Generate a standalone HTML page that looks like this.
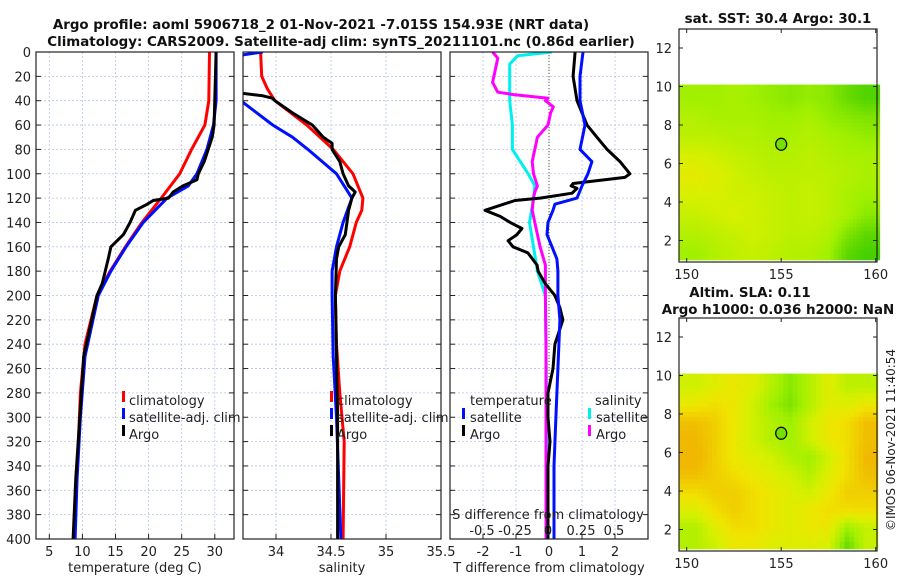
<!DOCTYPE html>
<html><head><meta charset="utf-8"><style>
body{margin:0;background:#fff}
svg{display:block;font-family:"DejaVu Sans","Liberation Sans",sans-serif}
</style></head><body>
<svg id="c" width="900" height="580" viewBox="0 0 900 580" xmlns="http://www.w3.org/2000/svg">
<defs>
<clipPath id="cp1"><rect x="36" y="52" width="198" height="487"/></clipPath>
<clipPath id="cp2"><rect x="243" y="52" width="198" height="487"/></clipPath>
<clipPath id="cp3"><rect x="450" y="52" width="198" height="487"/></clipPath>
</defs>
<text x="321" y="29" text-anchor="middle" font-size="13.4" font-weight="bold" fill="#111">Argo profile: aoml 5906718_2 01-Nov-2021 -7.015S 154.93E (NRT data)</text>
<text x="341" y="46" text-anchor="middle" font-size="13.4" font-weight="bold" fill="#111">Climatology: CARS2009. Satellite-adj clim: synTS_20211101.nc (0.86d earlier)</text>
<text x="778" y="23" text-anchor="middle" font-size="13.4" font-weight="bold" fill="#111">sat. SST: 30.4 Argo: 30.1</text>
<text x="750" y="297" text-anchor="middle" font-size="13.4" font-weight="bold" fill="#111">Altim. SLA: 0.11</text>
<text x="778" y="314" text-anchor="middle" font-size="13.4" font-weight="bold" fill="#111">Argo h1000: 0.036 h2000: NaN</text>
<text transform="translate(895,440) rotate(-90)" text-anchor="middle" font-size="12" fill="#222">©IMOS 06-Nov-2021 11:40:54</text>
<g id="g"></g>
</svg>
<script>
// ---------- data ----------
const tClimDepth=[0,40,60,80,100,120,140,160,180,200,240,280,320,360,400];
const tClimVal=[29.2,29.1,28.5,26.5,24.7,21.9,19.0,16.5,14.2,12.2,10.4,9.7,9.4,9.0,8.7];
const tSatDepth=[0,40,60,80,100,110,120,140,160,180,200,250,300,350,400];
const tSatVal=[30.2,30.2,29.8,28.8,27.3,26.0,22.8,19.2,16.6,14.3,12.4,10.4,9.7,9.2,8.9];
const tArgoDepth=[0,60,70,80,90,100,105,110,115,120,122,125,130,140,150,160,170,190,200,250,300,350,400];
const tArgoVal=[30.2,29.9,29.6,29.0,28.4,27.5,27.3,25.2,23.7,23.0,20.7,19.8,18.0,17.2,16.2,14.3,13.9,13.0,12.2,10.2,9.6,9.0,8.6];

const sClimDepth=[0,20,30,40,60,80,100,120,130,140,160,180,200,240,280,320,400];
const sClimVal=[33.86,33.87,33.92,33.99,34.28,34.52,34.70,34.79,34.78,34.73,34.67,34.58,34.54,34.55,34.58,34.62,34.61];
const sSatDepth=[0,3,40,60,70,80,100,120,140,160,180,200,250,300,400];
const sSatVal=[33.88,33.65,33.68,33.97,34.15,34.29,34.55,34.69,34.61,34.55,34.51,34.51,34.52,34.55,34.59];
const sArgoDepth=[0,33,34,36,38,40,50,60,70,75,80,90,100,110,115,120,130,150,160,170,200,250,300,400];
const sArgoVal=[33.5,33.5,33.70,33.88,33.97,33.99,34.15,34.33,34.43,34.51,34.51,34.58,34.61,34.66,34.72,34.69,34.66,34.63,34.57,34.55,34.54,34.55,34.56,34.56];

const dTArgoDepth=[0,20,40,60,70,80,90,100,103,108,110,112,116,120,122,130,135,140,145,150,155,160,165,175,180,190,200,210,220,240,260,280,300,320,340,360,400];
const dTArgoVal=[0.79,0.73,0.85,1.15,1.45,1.76,2.15,2.45,2.3,0.73,0.67,0.85,0.7,-0.27,-1.03,-1.94,-1.48,-1.18,-0.82,-0.97,-1.24,-1.09,-0.64,-0.36,-0.33,-0.12,0.18,0.33,0.42,0.18,0.12,-0.03,-0.03,0.03,-0.03,-0.03,-0.03];
const dTSatDepth=[0,20,40,60,80,90,100,110,120,125,130,140,150,160,170,180,200,220,260,300,340,400];
const dTSatVal=[1.03,0.94,0.94,1.09,0.94,1.3,1.18,1.0,0.85,0.18,0.12,-0.03,-0.06,0.09,0.24,0.27,0.27,0.33,0.27,0.21,0.15,0.15];
const dSArgoDepth=[0,5,25,33,35,38,40,45,50,60,70,80,90,100,110,115,120,130,140,160,175,200,240,300,400];
const dSArgoVal=[-0.42,-0.38,-0.42,-0.38,-0.26,0,-0.02,0.04,0.02,0,-0.08,-0.10,-0.12,-0.11,-0.08,-0.10,-0.11,-0.12,-0.10,-0.06,-0.02,-0.02,-0.015,-0.015,-0.015];
const dSSatDepth=[0,3,10,40,60,80,90,100,110,120,140,160,180,200,300,400];
const dSSatVal=[0.03,-0.23,-0.29,-0.29,-0.27,-0.27,-0.21,-0.15,-0.10,-0.11,-0.14,-0.11,-0.08,-0.02,-0.01,0];

const depthTicks=[0,20,40,60,80,100,120,140,160,180,200,220,240,260,280,300,320,340,360,380,400];
const tempTicks=[5,10,15,20,25,30];
const salTicks=[34,34.5,35,35.5];
const dTTicks=[-2,-1,0,1,2];
const dSTicks=[-0.5,-0.25,0,0.25,0.5];
const dSTickLabels=["-0.5","-0.25","0","0.25","0.5"];
const latTicks=[2,4,6,8,10,12];
const lonTicks=[150,155,160];

// SST anomaly levels (rows lat 10.1 -> 1, cols lon 150 -> 160)
const sstGrid=[
[.5,.5,.55,.5,.45,.4,.45,.4,.25,.15],
[.6,.55,.55,.55,.5,.5,.55,.45,.4,.35],
[.65,.65,.6,.6,.55,.55,.6,.55,.5,.45],
[.8,.75,.7,.65,.6,.6,.65,.6,.55,.55],
[.9,.85,.75,.7,.65,.65,.65,.65,.6,.55],
[.8,.8,.75,.75,.7,.65,.7,.65,.55,.5],
[.7,.75,.8,.75,.7,.65,.7,.65,.55,.4],
[.6,.65,.7,.75,.7,.65,.65,.6,.35,.2],
[.5,.6,.65,.7,.65,.6,.6,.5,.2,.1]];
const slaGrid=[
[.75,.85,.95,.85,.6,.4,.6,.85,.65,.65],
[.95,1.05,.95,.75,.5,.35,.6,.85,.85,.95],
[1.25,1.15,.95,.75,.6,.5,.75,.95,1.05,1.25],
[1.3,1.15,.95,.75,.6,.5,.75,.95,1.05,1.25],
[1.35,1.15,.95,.85,.75,.6,.5,.75,1.05,1.3],
[1.25,1.15,1.05,.95,.85,.75,.6,.85,1.05,1.25],
[1.05,1.15,1.15,1.05,.95,.85,.75,.95,1.15,1.15],
[.85,1.05,1.15,1.05,.95,.85,.95,1.05,1.05,1.05],
[.6,.85,1.05,1.05,.95,.85,.95,.95,.5,.7],
[.6,.75,.95,.95,.85,.85,.85,.8,.25,.7]];
const argoLon=155, argoLat=7;

// ---------- drawing ----------
const NS="http://www.w3.org/2000/svg";
const G=document.getElementById('g');
function mk(tag,at,parent){const e=document.createElementNS(NS,tag);for(const k in at)e.setAttribute(k,at[k]);(parent||G).appendChild(e);return e;}
const yD=d=>52+d*487/400;
const xT=t=>49.3+(t-5)*6.62;
const xS=s=>276+(s-34)*110;
const xDT=v=>549+v*33;
const xDS=v=>548+v*132;

function panel(x0,name){
  const r=mk('rect',{x:x0,y:52,width:198,height:487,fill:'#fff'});
  
  
  depthTicks.forEach(d=>{
    const y=yD(d);
    if(d>0&&d<400){const l=mk('line',{x1:x0,x2:x0+198,y1:y,y2:y,stroke:'#b8c4e8','stroke-width':0.8,'stroke-dasharray':'2,2'});
    }
    mk('line',{x1:x0,x2:x0+5,y1:y,y2:y,stroke:'#222'});
    mk('line',{x1:x0+198,x2:x0+193,y1:y,y2:y,stroke:'#222'});
  });
}
function vgrid(xs,x0){xs.forEach(x=>{if(x>x0+1&&x<x0+197){const l=mk('line',{x1:x,x2:x,y1:52,y2:539,stroke:'#b8c4e8','stroke-width':0.8,'stroke-dasharray':'2,2'});
}});}
function frame(x0,name){const r=mk('rect',{x:x0,y:52,width:198,height:487,fill:'none',stroke:'#222','stroke-width':1.2});
}
function line(depths,vals,fx,color,clip,name){
  const pts=depths.map((d,i)=>fx(vals[i]).toFixed(1)+','+yD(d).toFixed(1)).join(' ');
  const p=mk('polyline',{points:pts,fill:'none',stroke:color,'stroke-width':3,'stroke-linejoin':'round','clip-path':'url(#'+clip+')'});
  
  
}
function txt(x,y,s,opt,name){const t=mk('text',Object.assign({x:x,y:y,'font-size':13,fill:'#222'},opt||{}));t.textContent=s;
return t;}
function legMark(x,y,color,name){const r=mk('rect',{x:x,y:y-10,width:3,height:11,fill:color});
}

// panel 1: temperature
panel(36,'temperature');
vgrid(tempTicks.map(xT),36);
tempTicks.forEach(t=>{const x=xT(t);mk('line',{x1:x,x2:x,y1:539,y2:534,stroke:'#222'});
txt(x,556,String(t),{'text-anchor':'middle'},'temperature-tick-label');});
depthTicks.forEach(d=>txt(31,yD(d)+5,String(d),{'text-anchor':'end'},'depth-tick-label'));
line(tClimDepth,tClimVal,xT,'#ff0000','cp1','temperature-climatology-line');
line(tSatDepth,tSatVal,xT,'#0010ff','cp1','temperature-satellite-line');
line(tArgoDepth,tArgoVal,xT,'#000','cp1','temperature-argo-line');
frame(36,'temperature');
txt(135,572,'temperature (deg C)',{'text-anchor':'middle'},'temperature-axis-title');
legMark(122,401,'#ff0000','legend-climatology-marker');txt(129,405,'climatology',{},'legend-climatology');
legMark(122,418,'#0010ff','legend-satellite-marker');txt(129,422,'satellite-adj. clim',{},'legend-satellite');
legMark(122,435,'#000','legend-argo-marker');txt(129,439,'Argo',{},'legend-argo');

// panel 2: salinity
panel(243,'salinity');
vgrid(salTicks.map(xS),243);
salTicks.forEach(s=>{const x=xS(s);mk('line',{x1:x,x2:x,y1:539,y2:534,stroke:'#222'});
txt(x,556,String(s),{'text-anchor':'middle'},'salinity-tick-label');});
line(sClimDepth,sClimVal,xS,'#ff0000','cp2','salinity-climatology-line');
line(sSatDepth,sSatVal,xS,'#0010ff','cp2','salinity-satellite-line');
line(sArgoDepth,sArgoVal,xS,'#000','cp2','salinity-argo-line');
frame(243,'salinity');
txt(342,572,'salinity',{'text-anchor':'middle'},'salinity-axis-title');
legMark(330,401,'#ff0000','legend2-climatology-marker');txt(337,405,'climatology',{},'legend2-climatology');
legMark(330,418,'#0010ff','legend2-satellite-marker');txt(337,422,'satellite-adj. clim',{},'legend2-satellite');
legMark(330,435,'#000','legend2-argo-marker');txt(337,439,'Argo',{},'legend2-argo');

// panel 3: differences
panel(450,'difference');
vgrid(dTTicks.map(xDT),450);
dTTicks.forEach(v=>{const x=xDT(v);mk('line',{x1:x,x2:x,y1:539,y2:534,stroke:'#222'});
txt(x,556,String(v),{'text-anchor':'middle'},'t-diff-tick-label');});
const zl=mk('line',{x1:xDT(0),x2:xDT(0),y1:52,y2:539,stroke:'#555522','stroke-width':1,'stroke-dasharray':'1,2'});

line(dSSatDepth,dSSatVal,xDS,'#00f0f0','cp3','s-diff-satellite-line');
line(dSArgoDepth,dSArgoVal,xDS,'#ff00ff','cp3','s-diff-argo-line');
line(dTArgoDepth,dTArgoVal,xDT,'#000','cp3','t-diff-argo-line');
line(dTSatDepth,dTSatVal,xDT,'#0010ff','cp3','t-diff-satellite-line');
frame(450,'difference');
txt(549,572,'T difference from climatology',{'text-anchor':'middle'},'t-diff-axis-title');
txt(548,519,'S difference from climatology',{'text-anchor':'middle'},'s-diff-axis-title');
dSTicks.forEach((v,i)=>txt(xDS(v),535,dSTickLabels[i],{'text-anchor':'middle'},'s-diff-tick-label'));
txt(470,405,'temperature',{},'legend3-temperature-header');
legMark(462,418,'#0010ff','legend3-t-satellite-marker');txt(470,422,'satellite',{},'legend3-t-satellite');
legMark(462,435,'#000','legend3-t-argo-marker');txt(470,439,'Argo',{},'legend3-t-argo');
txt(595,405,'salinity',{},'legend3-salinity-header');
legMark(588,418,'#00f0f0','legend3-s-satellite-marker');txt(596,422,'satellite',{},'legend3-s-satellite');
legMark(588,435,'#ff00ff','legend3-s-argo-marker');txt(596,439,'Argo',{},'legend3-s-argo');

// ---------- maps ----------
const stops=[[0,[48,200,0]],[0.5,[160,240,0]],[0.8,[216,240,0]],[1.0,[240,228,0]],[1.3,[240,184,0]]];
function col(v){v=Math.max(0,Math.min(1.3,v));for(let i=1;i<stops.length;i++){if(v<=stops[i][0]){const a=stops[i-1],b=stops[i],f=(v-a[0])/(b[0]-a[0]);
return 'rgb('+a[1].map((c,k)=>Math.round(c+(b[1][k]-c)*f)).join(',')+')';}}return 'rgb(240,184,0)';}
function samp(grid,r,c){const R=grid.length,C=grid[0].length;r=Math.max(0,Math.min(R-1,r));c=Math.max(0,Math.min(C-1,c));
const r0=Math.floor(r),c0=Math.floor(c),r1=Math.min(R-1,r0+1),c1=Math.min(C-1,c0+1),fr=r-r0,fc=c-c0;
return grid[r0][c0]*(1-fr)*(1-fc)+grid[r0][c1]*(1-fr)*fc+grid[r1][c0]*fr*(1-fc)+grid[r1][c1]*fr*fc;}
function map(top,grid,name,step){
  const lx=lon=>686.7+(lon-150)*18.9;
  const ly=lat=>top+19+(12-lat)*19.25;
  const latTop=10.1,latBot=1.0,lon0=149.6,lon1=160.06;
  const g=mk('g',{});
  const R=grid.length,C=grid[0].length;
  for(let lat=latTop;lat>latBot+1e-6;lat-=step){
    for(let lon=lon0;lon<lon1-1e-6;lon+=step){
      const r=(latTop-lat-step/2)/(latTop-latBot)*R-0.5;
      const c=(lon+step/2-150)/10*C-0.5;
      const x=lx(lon),y=ly(lat);
      mk('rect',{x:x.toFixed(1),y:y.toFixed(1),width:(step*18.9+0.6).toFixed(1),height:(Math.min(step,lat-latBot)*19.25+0.6).toFixed(1),fill:col(samp(grid,r,c))},g);
    }
  }
  latTicks.forEach(l=>{const y=ly(l);mk('line',{x1:679,x2:683,y1:y,y2:y,stroke:'#222'});mk('line',{x1:877,x2:873,y1:y,y2:y,stroke:'#222'});
    txt(672,y+5,String(l),{'text-anchor':'end'},name+'-lat-tick-label');});
  lonTicks.forEach(l=>{const x=lx(l);mk('line',{x1:x,x2:x,y1:top+233,y2:top+229,stroke:'#222'});mk('line',{x1:x,x2:x,y1:top,y2:top+4,stroke:'#222'});
    txt(x,top+250,String(l),{'text-anchor':'middle'},name+'-lon-tick-label');});
  const m=mk('ellipse',{cx:lx(argoLon),cy:ly(argoLat),rx:5.5,ry:6,fill:col(0.3),stroke:'#000','stroke-width':1.2});
  
  const f=mk('rect',{x:679,y:top,width:198,height:233,fill:'none',stroke:'#222','stroke-width':1.2});
  
}
map(29,sstGrid,'sst-map',0.2);
map(318,slaGrid,'sla-map',0.25);
</script>
</body></html>
